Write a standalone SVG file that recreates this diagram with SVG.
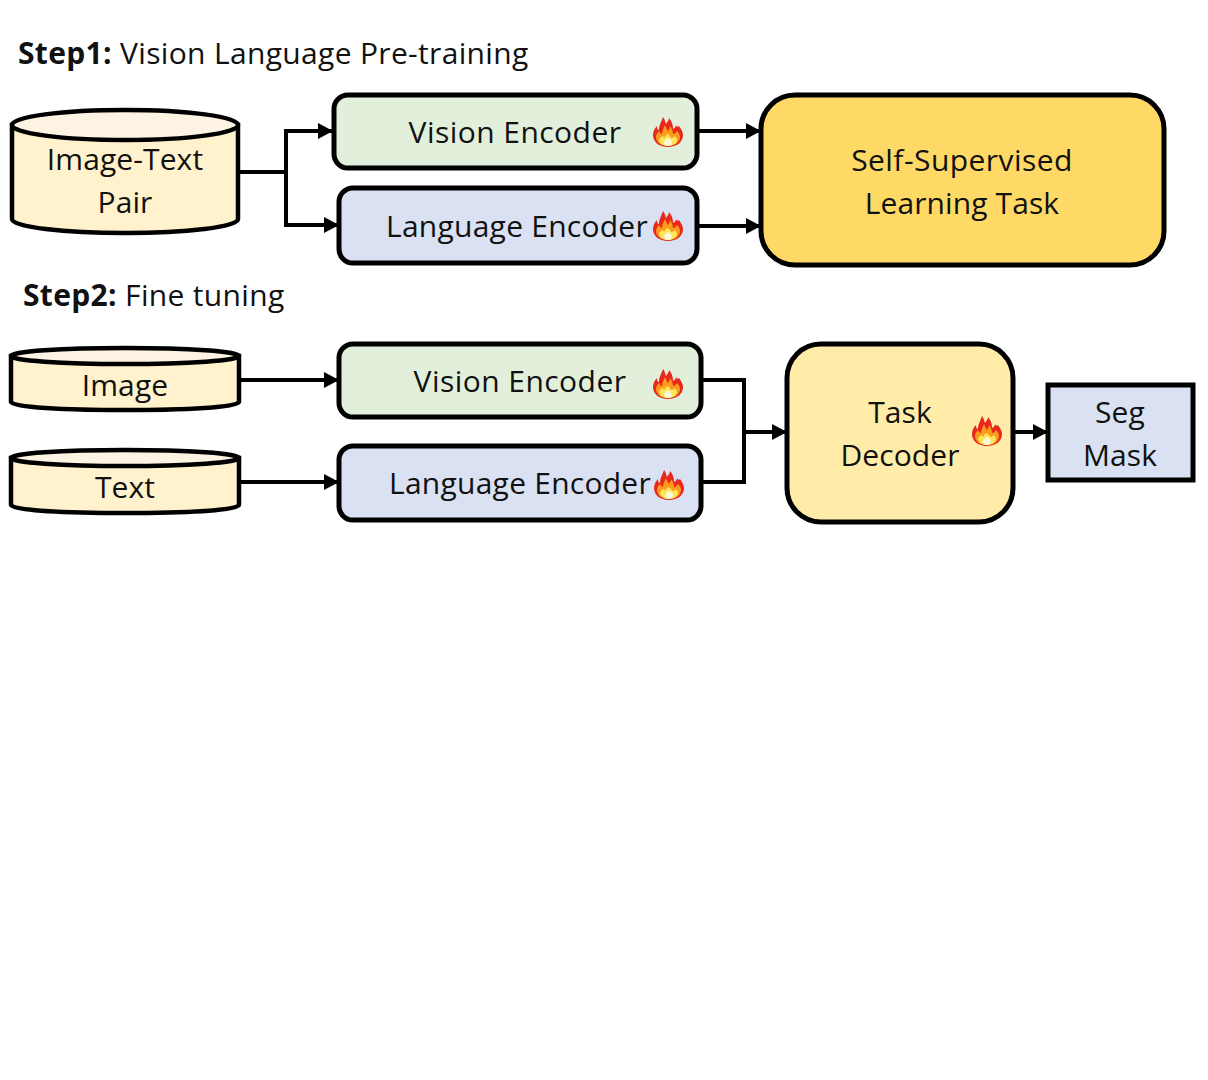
<svg xmlns="http://www.w3.org/2000/svg" width="1208" height="1080" viewBox="0 0 1208 1080">
<style>
text{font-family:"Open Sans","Noto Sans","DejaVu Sans",sans-serif;font-size:30px;letter-spacing:.45px;fill:#111;text-anchor:middle}
.n{letter-spacing:.25px}
.m{letter-spacing:.1px}
.h{text-anchor:start;font-size:30px;letter-spacing:.33px}
.h tspan{font-weight:700}
.b{stroke:#000;stroke-width:5}
.g{fill:#e2efda}.l{fill:#d9e1f2}
.c{fill:#fff2cc;stroke:#000;stroke-width:4.5}
.t{fill:#fdf3e3;stroke:#000;stroke-width:4.5}
.e{fill:none;stroke:#000;stroke-width:4}
</style>
<defs>
<marker id="a" markerUnits="userSpaceOnUse" markerWidth="16" markerHeight="18" refX="15" refY="8" orient="auto"><path d="M0 0L15 8L0 16Z" fill="#000"/></marker>
<g id="fire">
<path d="M15 31C6 31 0 26 0 19C0 15 2 12 4 10C4 13 5 14 6 14C6 9 8 7 10 1C12 3 12 6 13 8C15 5 16 4 16 2C19 5 20 9 20 13C22 12 23 11 23 9C24 11 25 11 26 10C28 13 30 16 30 19C30 26 24 31 15 31Z" fill="#e8281c"/>
<path d="M15 30C8 30 3 26 3 21C3 19 4 17 6 15C7 17 8 18 9 18C9 14 11 12 12 9C13 12 14 13 15 15C16 13 17 12 17 10C19 13 20 15 20 18C22 18 23 16 24 15C26 17 27 19 27 21C27 26 22 30 15 30Z" fill="#fb9a1b"/>
<path d="M15 30C10 30 6 27 6 24C6 22 8 21 10 20C11 22 12 22 12 20C13 19 14 18 15 18C16 19 18 21 18 22C20 22 21 21 22 20C23 21 24 23 24 24C24 27 20 30 15 30Z" fill="#fde65c"/>
<path d="M15 30C12 30 11 28 11 26C12 25 13 23 15 22C17 23 19 25 19 26C19 28 18 30 15 30Z" fill="#fdf8d8"/>
</g>
</defs>

<text class="h" x="18" y="64"><tspan>Step1:</tspan> Vision Language Pre-training</text>
<text class="h" x="23" y="306"><tspan>Step2:</tspan> Fine tuning</text>

<g id="connectors">
<path class="e" d="M239 172H286V131H333" marker-end="url(#a)"/>
<path class="e" d="M286 172V225H339" marker-end="url(#a)"/>
<path class="e" d="M697 131H761" marker-end="url(#a)"/>
<path class="e" d="M697 226H761" marker-end="url(#a)"/>
<path class="e" d="M239 380H339" marker-end="url(#a)"/>
<path class="e" d="M239 482H339" marker-end="url(#a)"/>
<path class="e" d="M702 380H744V482H702"/>
<path class="e" d="M744 432H787" marker-end="url(#a)"/>
<path class="e" d="M1013 432H1048" marker-end="url(#a)"/>
</g>

<g id="image-text-pair">
<path class="c" d="M12 125V219C12 227 64 233 125 233S238 227 238 219V125Z"/>
<ellipse class="t" cx="125" cy="125" rx="113" ry="15"/>
<text class="m" x="125" y="170">Image-Text</text>
<text class="m" x="125" y="213">Pair</text>
</g>
<g id="vision-encoder-1">
<rect class="b g" x="334" y="95" width="363" height="73" rx="14"/>
<text x="515" y="143">Vision Encoder</text>
<use href="#fire" x="653" y="116"/>
</g>
<g id="language-encoder-1">
<rect class="b l" x="339" y="188" width="358" height="75" rx="14"/>
<text class="n" x="517" y="237">Language Encoder</text>
<use href="#fire" x="653" y="210"/>
</g>
<g id="ssl-task">
<rect class="b" fill="#ffd966" x="761" y="95" width="403" height="170" rx="34"/>
<text x="962" y="171">Self-Supervised</text>
<text class="m" x="962" y="214">Learning Task</text>
</g>
<g id="image">
<path class="c" d="M11 356V402C11 407 64 410 125 410S239 407 239 402V356Z"/>
<ellipse class="t" cx="125" cy="356" rx="114" ry="8"/>
<text class="m" x="125" y="396">Image</text>
</g>
<g id="text">
<path class="c" d="M11 458V505C11 510 64 513 125 513S239 510 239 505V458Z"/>
<ellipse class="t" cx="125" cy="458" rx="114" ry="8"/>
<text class="m" x="125" y="498">Text</text>
</g>
<g id="vision-encoder-2">
<rect class="b g" x="339" y="344" width="362" height="73" rx="14"/>
<text x="520" y="392">Vision Encoder</text>
<use href="#fire" x="653" y="368"/>
</g>
<g id="language-encoder-2">
<rect class="b l" x="339" y="446" width="362" height="74" rx="14"/>
<text class="n" x="520" y="494">Language Encoder</text>
<use href="#fire" x="654" y="469"/>
</g>
<g id="task-decoder">
<rect class="b" fill="#ffeca8" x="787" y="344" width="226" height="178" rx="34"/>
<text class="m" x="900" y="423">Task</text>
<text class="m" x="900" y="466">Decoder</text>
<use href="#fire" x="972" y="415"/>
</g>
<g id="seg-mask">
<rect class="b l" x="1048" y="385" width="145" height="95"/>
<text class="m" x="1120" y="423">Seg</text>
<text class="m" x="1120" y="466">Mask</text>
</g>
</svg>
